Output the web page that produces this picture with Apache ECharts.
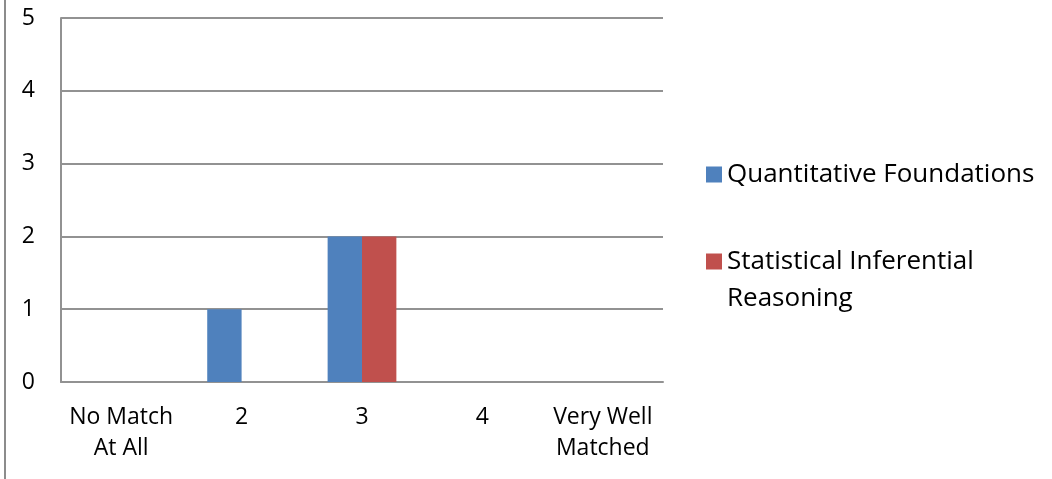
<!DOCTYPE html>
<html>
<head>
<meta charset="utf-8">
<script src="https://cdn.jsdelivr.net/npm/echarts@6/dist/echarts.min.js"></script>
<style>
  html, body { margin: 0; padding: 0; background: #fff; }
  #chart { width: 1052px; height: 479px; }
</style>
</head>
<body>
<div id="chart"></div>
<script>
// Rating scale categories and counts per course area
const categories = ['No Match\nAt All', '2', '3', '4', 'Very Well\nMatched'];
const seriesNames = ['Quantitative Foundations', 'Statistical Inferential\nReasoning'];
const quantitative = [0, 1, 2, 0, 0];
const statistical = [0, 0, 2, 0, 0];

const FONT = 'Open Sans';
const AXIS_FONT_SIZE = 23;
const LEGEND_FONT_SIZE = 26;
const GRID_COLOR = '#929292';

const chart = echarts.init(document.getElementById('chart'), null, { renderer: 'canvas' });

chart.setOption({
  animation: false,
  backgroundColor: '#ffffff',
  textStyle: { fontFamily: FONT, color: '#000' },
  graphic: [{
    type: 'line',
    shape: { x1: 5, y1: 0, x2: 5, y2: 479 },
    style: { stroke: '#8c8c8c', lineWidth: 2 }
  }],
  grid: { left: 61, right: 389, top: 18, bottom: 97 },
  legend: {
    orient: 'vertical',
    left: 706,
    top: 156,
    padding: 0,
    itemWidth: 16,
    itemHeight: 16,
    itemGap: 13,
    icon: 'rect',
    // a leading blank line keeps the swatch level with the first line of a wrapped name
    formatter: name => (name.indexOf('\n') >= 0 ? '\n' + name : name),
    textStyle: { fontFamily: FONT, fontSize: LEGEND_FONT_SIZE, color: '#000', lineHeight: 37 }
  },
  xAxis: {
    type: 'category',
    data: categories,
    axisLine: { lineStyle: { color: GRID_COLOR, width: 2 } },
    axisTick: { show: false },
    axisLabel: {
      interval: 0,
      margin: 20,
      fontFamily: FONT,
      fontSize: AXIS_FONT_SIZE,
      lineHeight: 31,
      color: '#000'
    }
  },
  yAxis: {
    type: 'value',
    min: 0,
    max: 5,
    interval: 1,
    axisLine: { show: true, lineStyle: { color: GRID_COLOR, width: 2 } },
    axisTick: { show: false },
    splitLine: { lineStyle: { color: GRID_COLOR, width: 2 } },
    axisLabel: { margin: 26, fontFamily: FONT, fontSize: AXIS_FONT_SIZE, color: '#000' }
  },
  series: [
    {
      name: seriesNames[0],
      type: 'bar',
      data: quantitative,
      itemStyle: { color: '#4F81BD' },
      barGap: '0%',
      barCategoryGap: '42.9%'
    },
    {
      name: seriesNames[1],
      type: 'bar',
      data: statistical,
      itemStyle: { color: '#C0504D' },
      barGap: '0%',
      barCategoryGap: '42.9%'
    }
  ]
});
</script>
</body>
</html>
